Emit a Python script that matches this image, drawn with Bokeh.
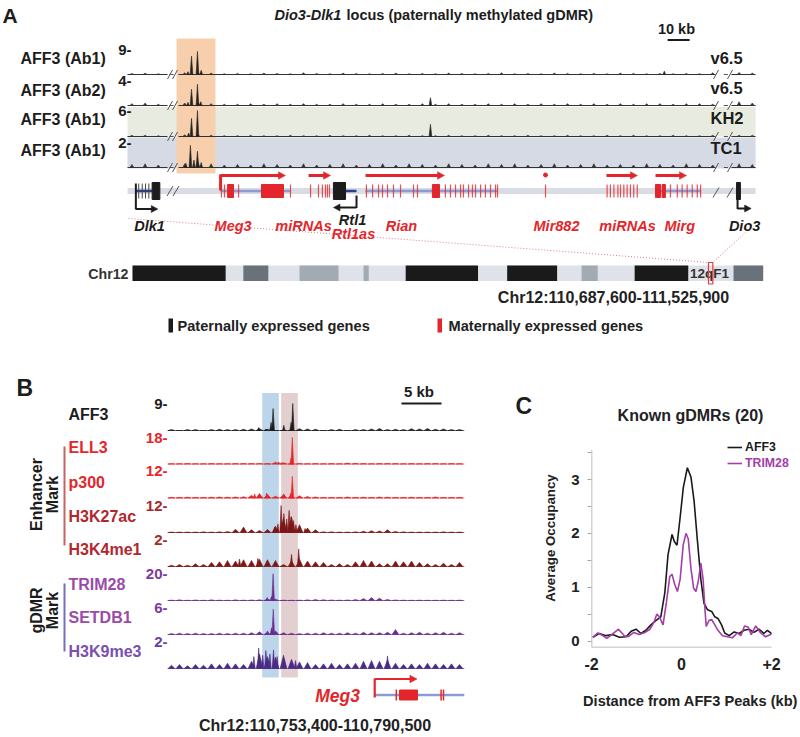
import math
from bokeh.plotting import figure
from bokeh.models import Range1d, Legend, LegendItem, FixedTicker
from bokeh.layouts import column, row
from bokeh.embed import file_html
from bokeh.resources import INLINE
from bokeh.core.properties import value

# ======================= DATA =======================
# ---- Panel A: Dio3-Dlk1 locus; positions in kb from the left end of the displayed track
A_TRACK_LABELS = ["AFF3 (Ab1)", "AFF3 (Ab2)", "AFF3 (Ab1)", "AFF3 (Ab1)"]
A_TRACK_MAX = [9, 4, 6, 2]
A_CELL_LINES = ["v6.5", "v6.5", "KH2", "TC1"]
A_BINS = [2, 8, 14, 20, 26, 32, 38, 44, 50, 56, 62, 68, 74, 80, 86, 92, 98, 104,
          110, 116, 122, 128, 134, 140, 146, 152, 158, 164, 170, 176, 182, 188,
          194, 200, 206, 212, 218, 224, 230, 236, 242, 248, 254, 260, 266, 272, 278, 284]
A_BG_1 = [0.4, 0.5, 0.3, 0.0, 0.6, 0.8, 0.5, 0.3, 0.4, 0.3,
          0.5, 0.4, 0.3, 0.6, 0.4, 0.3, 0.5, 0.4, 0.3, 0.4,
          0.5, 0.3, 0.4, 0.3, 0.5, 0.4, 0.3, 0.4, 0.6, 0.3,
          0.4, 0.3, 0.5, 0.4, 0.3, 0.4, 0.3, 0.5, 0.4, 0.3,
          0.4, 0.3, 0.4, 0.3, 0.6, 0.0, 0.7, 0.5]
A_BG_2 = [0.3, 0.4, 0.2, 0.0, 0.4, 0.6, 0.3, 0.2, 0.2, 0.3,
          0.2, 0.3, 0.2, 0.3, 0.2, 0.2, 0.3, 0.2, 0.2, 0.3,
          0.2, 0.2, 0.3, 0.2, 0.3, 0.2, 0.2, 0.3, 0.2, 0.3,
          0.2, 0.3, 0.2, 0.3, 0.2, 0.3, 0.2, 0.3, 0.2, 0.3,
          0.3, 0.2, 0.3, 0.3, 0.2, 0.0, 0.6, 0.4]
A_BG_3 = [0.3, 0.3, 0.2, 0.0, 0.4, 0.5, 0.3, 0.2, 0.2, 0.3,
          0.2, 0.2, 0.3, 0.2, 0.2, 0.3, 0.2, 0.2, 0.3, 0.2,
          0.2, 0.3, 0.2, 0.2, 0.3, 0.2, 0.2, 0.3, 0.2, 0.2,
          0.3, 0.2, 0.2, 0.3, 0.2, 0.2, 0.3, 0.2, 0.3, 0.2,
          0.2, 0.3, 0.2, 0.2, 0.3, 0.0, 0.3, 0.3]
A_BG_4 = [0.25, 0.3, 0.2, 0.0, 0.3, 0.45, 0.3, 0.2, 0.25, 0.2,
          0.3, 0.25, 0.2, 0.3, 0.2, 0.25, 0.3, 0.2, 0.25, 0.3,
          0.2, 0.3, 0.25, 0.2, 0.3, 0.25, 0.2, 0.3, 0.25, 0.3,
          0.2, 0.25, 0.3, 0.2, 0.25, 0.3, 0.2, 0.25, 0.2, 0.3,
          0.25, 0.2, 0.3, 0.25, 0.2, 0.0, 0.3, 0.25]
A_BG = [A_BG_1, A_BG_2, A_BG_3, A_BG_4]
A_PEAK_POS = [[27.5, 29.1, 31.8, 33.5, 244.0],
              [27.5, 29.1, 31.8, 33.3, 137.7],
              [27.8, 29.1, 31.8, 137.7],
              [26.5, 28.6, 30.2, 31.8, 33.5]]
A_PEAK_H = [[1.0, 6.6, 8.3, 1.5, 1.2],
            [0.5, 2.6, 3.4, 0.6, 1.25],
            [0.8, 4.2, 6.0, 2.8],
            [0.35, 1.77, 0.6, 1.3, 0.4]]
A_SEG_START = [0.0, 23.2, 274.5]
A_SEG_END = [18.2, 267.3, 285.5]
A_TRACK_LEN = 285.5
A_GDMR = (22.3, 40.0)

# genes (kb)
A_PAT_LINE_START = [3.8, 99.1]
A_PAT_LINE_END = [11.2, 104.1]
A_PAT_BOX_L = [11.2, 93.6, 276.8]
A_PAT_BOX_R = [14.7, 99.1, 278.6]
A_DLK1_EXONS = [5.1, 6.7, 8.2, 9.7]
A_MAT_LINE_START = [42.3, 108.2, 240.0]
A_MAT_LINE_END = [74.1, 168.2, 260.5]
A_MAT_BOX_L = [45.5, 60.9, 138.6, 240.0, 243.0]
A_MAT_BOX_R = [48.2, 70.9, 141.8, 242.3, 244.5]
A_MAT_EXONS = [42.7, 44.1, 50.5, 74.1,
               83.2, 86.8, 88.6, 90.0, 90.9, 91.8,
               108.6, 111.4, 114.1, 115.9, 118.2, 120.9, 124.1, 130.0, 131.8, 144.5,
               146.8, 149.1, 151.4, 152.7, 155.0, 156.8, 158.2, 160.5, 162.7, 165.0,
               167.3, 168.2,
               190.0,
               218.0, 219.5, 221.1, 222.9, 224.1, 225.6, 227.1, 228.6, 230.1, 231.7,
               246.8, 249.9, 252.1, 254.4, 256.7, 259.0, 260.5]
A_MAT_ARROW_START = [42.3, 82.3, 108.2, 217.7, 240.0]
A_MAT_ARROW_END = [71.8, 92.3, 144.1, 231.8, 254.1]
A_MIR882 = 190.0
A_GENE_NAMES = ["Dlk1", "Meg3", "miRNAs", "Rtl1", "Rtl1as", "Rian", "Mir882", "miRNAs", "Mirg", "Dio3"]
A_GENE_POS = [10.0, 48.0, 80.0, 102.3, 102.7, 124.5, 195.0, 227.3, 251.0, 280.5]
A_GENE_PATERNAL = [True, False, False, True, False, False, False, False, False, True]

# chromosome 12 ideogram (Mb)
CHR_LEN = 121.2
CHR_BAND_START = [0.0, 21.3, 32.1, 44.4, 52.5, 72.0, 86.3, 96.5, 115.5]
CHR_BAND_END = [17.9, 26.1, 39.6, 45.4, 66.4, 81.6, 89.4, 106.8, 121.2]
CHR_BAND_STAIN = ["gpos100", "gpos66", "gpos50", "gpos50", "gpos100", "gpos100", "gpos50", "gpos100", "gpos66"]
LOCUS_MB = (110.6876, 111.5259)

# ---- Panel B: Meg3 region, kb from 110,753,400
B_TRACKS = ["AFF3", "ELL3", "p300", "H3K27ac", "H3K4me1", "TRIM28", "SETDB1", "H3K9me3"]
B_MAX = [9, 18, 12, 12, 2, 20, 6, 2]
B_LEN = 37.1
B_BINS = [i + 0.5 for i in range(37)]
B_BG = [
    [0.3, 0.0, 0.3, 0.3, 0.0, 0.3, 0.4, 0.3, 0.3, 0.4, 0.5, 0.6, 0.4, 0.0, 0.0, 0.0, 0.6, 0.5, 0.4, 0.0,
     0.3, 0.4, 0.0, 0.3, 0.3, 0.5, 0.7, 0.3, 0.4, 0.3, 0.6, 0.5, 0.7, 0.4, 0.5, 0.3, 0.3],
    [0.2, 0.2, 0.3, 0.2, 0.2, 0.3, 0.2, 0.2, 0.3, 0.3, 0.3, 0.4, 0.3, 1.2, 0.8, 0.0, 0.4, 0.2, 0.3, 0.2,
     0.3, 0.2, 0.6, 0.5, 0.3, 0.2, 0.3, 0.4, 0.3, 0.2, 0.3, 0.2, 0.3, 0.4, 0.2, 0.3, 0.2],
    [0.3, 0.3, 0.4, 0.3, 0.3, 0.4, 0.5, 0.4, 0.5, 0.6, 1.2, 2.0, 1.6, 0.8, 1.6, 1.2, 1.0, 0.7, 0.5, 0.3,
     0.3, 0.3, 0.5, 0.3, 0.4, 0.3, 0.5, 0.4, 0.3, 0.3, 0.4, 0.3, 0.3, 0.5, 0.3, 0.3, 0.3],
    [0.2, 0.2, 0.2, 0.2, 0.3, 0.2, 0.3, 0.4, 1.5, 2.4, 1.2, 0.9, 1.3, 2.8, 6.5, 7.0, 3.5, 2.0, 1.2,
     0.3, 0.3, 0.2, 0.2, 0.3, 0.6, 0.8, 0.7, 1.2, 0.5, 0.3, 0.2, 0.2, 0.2, 0.2, 0.3, 0.2, 0.2],
    [0.1, 0.15, 0.1, 0.2, 0.15, 0.3, 0.35, 0.45, 0.4, 0.5, 0.45, 0.55, 0.5, 0.45, 0.15, 0.4, 0.55, 0.4, 0.35, 0.3,
     0.15, 0.2, 0.15, 0.35, 0.45, 0.4, 0.2, 0.2, 0.4, 0.35, 0.4, 0.3, 0.2, 0.15, 0.25, 0.15, 0.3],
    [0.3, 0.5, 0.2, 0.4, 0.2, 0.5, 0.3, 0.2, 0.5, 0.3, 0.4, 0.6, 1.2, 1.0, 0.3, 0.2, 0.3, 0.5, 0.7, 0.6,
     0.4, 0.3, 0.4, 0.7, 1.4, 2.2, 1.6, 0.8, 0.4, 0.3, 0.2, 0.3, 0.2, 0.2, 0.3, 0.2, 0.3],
    [0.2, 0.3, 0.2, 0.3, 0.2, 0.2, 0.3, 0.2, 0.3, 0.3, 0.4, 0.6, 0.5, 0.8, 0.4, 0.3, 0.2, 0.3, 0.3, 0.4,
     0.3, 0.3, 0.4, 0.3, 0.5, 0.4, 0.4, 0.5, 1.1, 0.3, 0.4, 0.5, 0.3, 0.4, 0.5, 0.3, 0.4],
    [0.25, 0.3, 0.2, 0.3, 0.25, 0.35, 0.3, 0.4, 0.35, 0.3, 0.55, 1.1, 0.9, 0.85, 1.0, 0.7, 0.5, 0.45, 0.3, 0.35,
     0.4, 0.3, 0.35, 0.4, 0.55, 0.6, 0.55, 0.65, 0.4, 0.3, 0.35, 0.3, 0.4, 0.35, 0.3, 0.35, 0.3],
]
B_PEAK_POS = [
    [11.4, 12.3, 12.95, 13.2, 14.54, 15.45, 15.66],
    [13.9, 14.3, 15.45, 15.6],
    [10.9, 12.4, 14.55, 15.4, 15.6],
    [13.4, 13.8, 14.2, 14.55, 14.9, 15.2, 15.45, 15.75, 16.05, 16.6, 17.2],
    [9.0, 11.3, 15.5, 16.4],
    [12.46, 13.0, 13.2],
    [12.5, 13.0, 13.22],
    [10.8, 11.4, 11.9, 12.3, 12.8, 13.25, 13.7, 14.6, 16.0, 27.5],
]
B_PEAK_H = [
    [1.0, 0.5, 2.7, 7.3, 1.7, 2.7, 9.0],
    [1.4, 1.0, 4.0, 18.0],
    [1.8, 2.2, 1.8, 2.2, 9.6],
    [2.5, 3.8, 12.0, 8.4, 6.0, 9.8, 7.0, 5.3, 3.5, 2.2, 1.8],
    [0.55, 0.6, 0.9, 1.3],
    [2.2, 3.0, 19.8],
    [0.8, 1.5, 5.6],
    [0.9, 1.55, 1.0, 1.35, 1.1, 1.4, 0.9, 0.7, 0.6, 0.95],
]
B_AFF3_SITE = (11.84, 13.91)
B_ENH_SITE = (14.21, 16.29)
B_MEG3_TSS = 25.9
B_MEG3_ARROW_END = 31.2
B_MEG3_EXONS = [28.6, 34.2, 34.5]
B_MEG3_BOX = (29.0, 31.25)

# ---- Panel C: metaprofile at known gDMRs (kb vs average occupancy)
C_X_AFF3 = [-1.97, -1.83, -1.68, -1.53, -1.38, -1.23, -1.12, -1.01, -0.90, -0.79, -0.68, -0.57,
            -0.46, -0.37, -0.30, -0.21, -0.16, -0.10, -0.03, 0.04, 0.13, 0.21, 0.28, 0.35, 0.43,
            0.50, 0.58, 0.67, 0.74, 0.81, 0.89, 0.96, 1.06, 1.17, 1.28, 1.39, 1.50, 1.61, 1.72,
            1.83, 1.91, 2.00]
C_Y_AFF3 = [0.07, 0.14, 0.10, 0.12, 0.07, 0.08, 0.18, 0.22, 0.14, 0.20, 0.30, 0.38,
            0.45, 0.90, 1.60, 1.98, 1.85, 1.78, 2.30, 2.85, 3.22, 3.05, 2.60, 1.90, 1.15,
            0.70, 0.58, 0.55, 0.45, 0.42, 0.30, 0.15, 0.10, 0.17, 0.14, 0.20, 0.22, 0.16, 0.22,
            0.14, 0.20, 0.14]
C_X_TRIM28 = [-1.97, -1.86, -1.75, -1.66, -1.55, -1.40, -1.27, -1.18, -1.06, -0.94, -0.81, -0.70,
              -0.61, -0.55, -0.49, -0.41, -0.33, -0.26, -0.21, -0.15, -0.09, -0.03, 0.04, 0.10,
              0.15, 0.21, 0.27, 0.32, 0.37, 0.43, 0.48, 0.52, 0.55, 0.61, 0.67, 0.74, 0.81, 0.91,
              1.02, 1.13, 1.24, 1.32, 1.40, 1.48, 1.55, 1.65, 1.76, 1.87, 2.00]
C_Y_TRIM28 = [0.07, 0.15, 0.10, 0.05, 0.12, 0.22, 0.10, 0.08, 0.16, 0.12, 0.16, 0.22,
              0.35, 0.50, 0.45, 0.30, 0.75, 1.20, 1.24, 1.05, 0.92, 1.15, 1.80, 2.00,
              1.90, 1.35, 0.98, 0.92, 1.10, 1.45, 1.15, 0.60, 0.27, 0.38, 0.40, 0.30, 0.20, 0.10,
              0.08, 0.06, 0.15, 0.10, 0.28, 0.26, 0.12, 0.28, 0.15, 0.08, 0.13]
C_X_TICKS = [-2, 0, 2]
C_Y_TICKS = [0, 0.5, 1, 1.5, 2, 2.5, 3, 3.5]
C_X_LIMITS = (-2, 2)
C_Y_LIMITS = (-0.12, 3.55)

# ======================= STYLE =======================
FONT = "Liberation Sans"
BLACK = "#1c1c1c"
RED = "#e3262b"
PAT_BLUE = "#2b3f8f"
MAT_BLUE = "#8c9bd6"
GENE_GRAY = "#d9dde3"
SX = 1.0

A_BASE = [74, 105, 136, 167]
A_TOP = [49, 80, 110, 142]
A_LABEL_Y = [58, 90, 119, 150]
A_CELL_Y = [57, 87, 117, 147]
A_KB0_PX, A_PX_PER_KB = 127.0, 2.2
CHR0_PX, CHR_PX_PER_MB = 132.0, 5.2037
B_BASE = [430, 463.5, 497.5, 532, 566, 600, 634, 668]
B_TOP = [403, 437, 470.5, 505, 539, 573, 607, 641.5]
B_LABEL_Y = [414, 447, 482, 516, 549, 584, 617, 651]
B_KB0_PX, B_PX_PER_KB = 167.0, 8.0
B_SIG_COLOR = [BLACK, RED, RED, "#7a1717", "#7a1717", "#6a2b8e", "#6a2b8e", "#4b2a85"]
B_TXT_COLOR = [BLACK, RED, RED, "#b0282f", "#b0282f", "#9a4aa9", "#9a4aa9", "#7a4fae"]
B_SCALE_COLOR = [BLACK, RED, RED, "#a42a2a", "#a42a2a", "#7d3a9e", "#7d3a9e", "#6a3fa3"]


def canvas(w, h, x0, x1, ytop, ybot):
    p = figure(width=w, height=h, x_range=Range1d(x0, x1), y_range=Range1d(ybot, ytop),
               output_backend="svg", toolbar_location=None, min_border=0,
               x_axis_location=None, y_axis_location=None)
    p.xgrid.visible = False
    p.ygrid.visible = False
    p.outline_line_color = None
    p.frame_align = False
    return p


def txt(p, x, y, s, size, color=BLACK, style="bold", align="left", base="middle", angle=0.0):
    p.text(x=[x], y=[y], text=[s], text_font=value(FONT), text_font_size=f"{size * SX:.1f}px",
           text_font_style=style, text_color=color, text_align=align, text_baseline=base, angle=angle)


def spikes(p, pos, h, half, color, xr, yr):
    xs = [[x - half, x, x + half] for x in pos]
    ys = [[0, v, 0] for v in h]
    p.patches(xs=xs, ys=ys, fill_color=color, line_color=color, line_width=0.6,
              x_range_name=xr, y_range_name=yr)


def harrow(p, x0, x1, y, color, lw, head_len, head_half, xr):
    s = 1 if x1 > x0 else -1
    p.segment(x0=[x0], y0=[y], x1=[x1 - s * head_len * 0.6], y1=[y], line_color=color,
              line_width=lw, x_range_name=xr)
    p.patches(xs=[[x1, x1 - s * head_len, x1 - s * head_len]], ys=[[y, y - head_half, y + head_half]],
              fill_color=color, line_color=color, line_width=0.5, x_range_name=xr)


def slash(p, x, y, half_h=4.5, half_w=2.5, color="#555555"):
    p.segment(x0=[x - half_w], y0=[y + half_h], x1=[x + half_w], y1=[y - half_h],
              line_color=color, line_width=1)


# ======================= PANEL A =======================
pA = canvas(800, 365, 0, 800, 0, 365)
pA.extra_x_ranges = {
    "kb": Range1d((0 - A_KB0_PX) / A_PX_PER_KB, (800 - A_KB0_PX) / A_PX_PER_KB),
    "mb": Range1d((0 - CHR0_PX) / CHR_PX_PER_MB, (800 - CHR0_PX) / CHR_PX_PER_MB),
}
for i in range(4):
    k = A_TRACK_MAX[i] / (A_BASE[i] - A_TOP[i])
    pA.extra_y_ranges[f"t{i}"] = Range1d((A_BASE[i] - 365) * k, A_BASE[i] * k)

pA.quad(left=[0, 0], right=[A_TRACK_LEN, A_TRACK_LEN], top=[106.5, 137], bottom=[136, 168],
        fill_color=["#e8ebe0", "#d6dae4"], line_color=None, x_range_name="kb")
pA.quad(left=[A_GDMR[0]], right=[A_GDMR[1]], top=[38], bottom=[173], fill_color="#f7cfac",
        line_color=None, x_range_name="kb")

for i in range(4):
    yr = f"t{i}"
    pA.segment(x0=A_SEG_START, x1=A_SEG_END, y0=0, y1=0, line_color="#333333", line_width=1,
               x_range_name="kb", y_range_name=yr)
    spikes(pA, A_BINS, A_BG[i], 0.9, "#333333", "kb", yr)
    spikes(pA, A_PEAK_POS[i], A_PEAK_H[i], 0.6, "#222222", "kb", yr)
    slash(pA, 169.5, A_BASE[i])
    slash(pA, 174.5, A_BASE[i])
    slash(pA, 715.5, A_BASE[i])
    slash(pA, 729.5, A_BASE[i])
    txt(pA, 20, A_LABEL_Y[i], A_TRACK_LABELS[i], 16)
    txt(pA, 131, A_TOP[i], f"{A_TRACK_MAX[i]}-", 15, align="right")
    txt(pA, 710, A_CELL_Y[i], A_CELL_LINES[i], 16.5)

pA.quad(left=[0], right=[A_TRACK_LEN], top=[187.5], bottom=[193.5], fill_color=GENE_GRAY,
        line_color=None, x_range_name="kb")
pA.segment(x0=A_MAT_LINE_START, x1=A_MAT_LINE_END, y0=190.5, y1=190.5, line_color=MAT_BLUE,
           line_width=2.5, x_range_name="kb")
pA.segment(x0=A_PAT_LINE_START, x1=A_PAT_LINE_END, y0=190.5, y1=190.5, line_color=PAT_BLUE,
           line_width=2.5, x_range_name="kb")
pA.segment(x0=A_MAT_EXONS, x1=A_MAT_EXONS, y0=184, y1=197, line_color=RED, line_width=1.2,
           line_alpha=0.8, x_range_name="kb")
pA.quad(left=A_MAT_BOX_L, right=A_MAT_BOX_R, top=184, bottom=197, fill_color=RED, line_color=RED,
        x_range_name="kb")
pA.segment(x0=A_DLK1_EXONS, x1=A_DLK1_EXONS, y0=183, y1=198, line_color="#444444", line_width=1,
           x_range_name="kb")
pA.quad(left=A_PAT_BOX_L, right=A_PAT_BOX_R, top=182, bottom=199, fill_color=BLACK, line_color=BLACK,
        x_range_name="kb")
pA.segment(x0=[A_MAT_ARROW_START[0]], x1=[A_MAT_ARROW_START[0]], y0=[190], y1=[174],
           line_color=RED, line_width=3, x_range_name="kb")
for s, e in zip(A_MAT_ARROW_START, A_MAT_ARROW_END):
    harrow(pA, s, e, 175, RED, 3, 3.2, 3.8, "kb")
pA.scatter(x=[A_MIR882], y=[174.5], size=4, color=RED, x_range_name="kb")
pA.segment(x0=[A_PAT_LINE_START[0], A_PAT_LINE_END[1], A_PAT_BOX_L[2] + 0.5],
           x1=[A_PAT_LINE_START[0], A_PAT_LINE_END[1], A_PAT_BOX_L[2] + 0.5],
           y0=[183, 195, 183], y1=[209, 207.5, 208.5], line_color=BLACK, line_width=2, x_range_name="kb")
harrow(pA, A_PAT_LINE_START[0], 13.8, 208.5, BLACK, 2, 3.0, 3.5, "kb")
harrow(pA, A_PAT_LINE_END[1], 93.6, 207, BLACK, 2, 3.0, 3.5, "kb")
harrow(pA, A_PAT_BOX_L[2] + 0.5, 283.5, 208, BLACK, 2, 3.0, 3.5, "kb")
slash(pA, 169.5, 190.5, 5, 3)
slash(pA, 175.5, 190.5, 5, 3)
slash(pA, 715.5, 192, 5, 3)
slash(pA, 729.5, 192, 5, 3)

for name, pos, pat in zip(A_GENE_NAMES, A_GENE_POS, A_GENE_PATERNAL):
    y = 225
    if name == "Rtl1":
        y = 219
    elif name == "Rtl1as":
        y = 233
    px = A_KB0_PX + pos * A_PX_PER_KB
    txt(pA, px, y, name, 14.5, color=BLACK if pat else RED, style="bold italic", align="center")

lx0 = CHR0_PX + LOCUS_MB[0] * CHR_PX_PER_MB
lx1 = CHR0_PX + LOCUS_MB[1] * CHR_PX_PER_MB
pA.segment(x0=[128, 745], y0=[218, 232], x1=[lx0, lx1], y1=[262, 262], line_color="#e47c7c",
           line_width=1, line_dash="1 2")

stain_col = {"gpos100": "#1a1a1a", "gpos66": "#69727a", "gpos50": "#a2aab4"}
pA.quad(left=[0], right=[CHR_LEN], top=[265], bottom=[280.5], fill_color="#dfe3e9", line_color=None,
        x_range_name="mb")
pA.quad(left=CHR_BAND_START, right=CHR_BAND_END, top=265, bottom=280.5,
        fill_color=[stain_col[s] for s in CHR_BAND_STAIN], line_color=None, x_range_name="mb")
txt(pA, 709, 273, "12qF1", 13.5, color="#333333", align="center")
pA.quad(left=[LOCUS_MB[0]], right=[LOCUS_MB[1]], top=[262], bottom=[283.5], fill_color=None,
        line_color="#e0393e", line_width=1.2, x_range_name="mb")
txt(pA, 128, 273, "Chr12", 14.2, color="#333333", align="right")
txt(pA, 613, 297, "Chr12:110,687,600-111,525,900", 16, color="#222222", align="center")

pA.quad(left=[168, 437], right=[172.5, 441.5], top=[318, 318], bottom=[332, 332],
        fill_color=[BLACK, RED], line_color=None)
txt(pA, 177, 325.5, "Paternally expressed genes", 14.6, color="#222222")
txt(pA, 448, 325.5, "Maternally expressed genes", 14.6, color="#222222")

txt(pA, 2, 15, "A", 21)
txt(pA, 274, 14, "Dio3-Dlk1", 14.5, style="bold italic")
txt(pA, 346, 14, "locus (paternally methylated gDMR)", 14.5)
txt(pA, 676, 28, "10 kb", 14.5, align="center")
pA.segment(x0=[245.5], x1=[255.5], y0=[39.5], y1=[39.5], line_color=BLACK, line_width=2,
           x_range_name="kb")

# ======================= PANEL B =======================
pB = canvas(540, 372, 0, 540, 365, 737)
pB.extra_x_ranges = {"kb": Range1d((0 - B_KB0_PX) / B_PX_PER_KB, (540 - B_KB0_PX) / B_PX_PER_KB)}
for i in range(8):
    k = B_MAX[i] / (B_BASE[i] - B_TOP[i])
    pB.extra_y_ranges[f"t{i}"] = Range1d((B_BASE[i] - 737) * k, (B_BASE[i] - 365) * k)

pB.quad(left=[B_AFF3_SITE[0], B_ENH_SITE[0]], right=[B_AFF3_SITE[1], B_ENH_SITE[1]],
        top=392.5, bottom=677, fill_color=["#bcd5ea", "#e3cfcf"], line_color=None, x_range_name="kb")

for i in range(8):
    yr = f"t{i}"
    c = B_SIG_COLOR[i]
    pB.segment(x0=[0], x1=[B_LEN], y0=[0], y1=[0], line_color=c, line_width=0.8, line_alpha=0.8,
               x_range_name="kb", y_range_name=yr)
    spikes(pB, B_BINS, B_BG[i], 0.42, c, "kb", yr)
    spikes(pB, B_PEAK_POS[i], B_PEAK_H[i], 0.16, c, "kb", yr)
    txt(pB, 167, B_TOP[i], f"{B_MAX[i]}-", 15, color=B_SCALE_COLOR[i], align="right")
    txt(pB, 68, B_LABEL_Y[i], B_TRACKS[i], 16, color=B_TXT_COLOR[i])

pB.segment(x0=[64, 64], x1=[64, 64], y0=[446, 583], y1=[545, 651],
           line_color=["#c46464", "#7570b5"], line_width=2)
txt(pB, 35.5, 494, "Enhancer", 16, angle=math.pi / 2, align="center")
txt(pB, 51.5, 494, "Mark", 16, angle=math.pi / 2, align="center")
txt(pB, 35.5, 610, "gDMR", 16, angle=math.pi / 2, align="center")
txt(pB, 51.5, 610, "Mark", 16, angle=math.pi / 2, align="center")

pB.segment(x0=[B_MEG3_TSS], x1=[B_LEN], y0=[694.5], y1=[694.5], line_color=MAT_BLUE, line_width=2.5,
           x_range_name="kb")
pB.segment(x0=[B_MEG3_TSS], x1=[B_MEG3_TSS], y0=[697], y1=[678], line_color=RED, line_width=2.2,
           x_range_name="kb")
harrow(pB, B_MEG3_TSS, B_MEG3_ARROW_END, 678.5, RED, 2.2, 0.9, 3.8, "kb")
pB.segment(x0=B_MEG3_EXONS, x1=B_MEG3_EXONS, y0=689, y1=700, line_color=RED, line_width=1.5,
           x_range_name="kb")
pB.quad(left=[B_MEG3_BOX[0]], right=[B_MEG3_BOX[1]], top=[689.5], bottom=[699.5], fill_color=RED,
        line_color=RED, x_range_name="kb")
txt(pB, 337, 695, "Meg3", 17.5, color=RED, style="bold italic", align="center")

txt(pB, 314.5, 725, "Chr12:110,753,400-110,790,500", 16, color="#222222", align="center")
txt(pB, 418.5, 391, "5 kb", 15, align="center")
pB.segment(x0=[29.25], x1=[34.25], y0=[403], y1=[403], line_color=BLACK, line_width=2,
           x_range_name="kb")
txt(pB, 16, 387, "B", 23)
txt(pB, 515, 405, "C", 23)

# ======================= PANEL C =======================
# frame extended right/up so the legend (which sits beyond the data area) is not clipped
pC = figure(width=260, height=372, x_range=Range1d(C_X_LIMITS[0], 2.4),
            y_range=Range1d(C_Y_LIMITS[0], 3.95),
            output_backend="svg", toolbar_location=None,
            min_border_left=51, min_border_right=11, min_border_top=63, min_border_bottom=90)
pC.frame_align = False
pC.grid.visible = False
pC.outline_line_color = None
AX_GRAY = "#a8a8a8"
pC.segment(x0=[C_X_LIMITS[0], C_X_LIMITS[0]], y0=[C_Y_LIMITS[0], C_Y_LIMITS[0]],
           x1=[C_X_LIMITS[1], C_X_LIMITS[0]], y1=[C_Y_LIMITS[0], C_Y_LIMITS[1]],
           line_color=AX_GRAY, line_width=1.5)
r1 = pC.line(C_X_AFF3, C_Y_AFF3, line_color="#1a1a1a", line_width=1.6)
r2 = pC.line(C_X_TRIM28, C_Y_TRIM28, line_color="#a43ea8", line_width=1.6)

pC.title.text = "Known gDMRs (20)"
pC.title.text_font = FONT
pC.title.text_font_size = "16px"
pC.title.text_font_style = "bold"
pC.title.text_color = "#222222"
pC.title.align = "center"
pC.title.offset = 13

for ax in (pC.xaxis, pC.yaxis):
    ax.axis_line_color = None
    ax.major_tick_line_color = AX_GRAY
    ax.minor_tick_line_color = None
    ax.major_label_text_font = FONT
    ax.major_label_text_font_style = "bold"
    ax.major_label_text_color = "#222222"
    ax.axis_label_text_font = FONT
    ax.axis_label_text_font_style = "bold"
    ax.axis_label_text_color = "#222222"

pC.xaxis.ticker = FixedTicker(ticks=C_X_TICKS)
pC.xaxis.major_label_overrides = {-2: "-2", 0: "0", 2: "+2"}
pC.xaxis.major_tick_out = 0
pC.xaxis.major_tick_in = 0
pC.xaxis.major_label_text_font_size = "16px"
pC.xaxis.major_label_standoff = 10
pC.xaxis.axis_label = "Distance from AFF3 Peaks (kb)"
pC.xaxis.axis_label_text_font_size = "14.6px"
pC.xaxis.axis_label_standoff = 20

pC.yaxis.ticker = FixedTicker(ticks=C_Y_TICKS)
pC.yaxis.major_label_overrides = {0.5: "", 1.5: "", 2.5: "", 3.5: ""}
pC.yaxis.major_tick_out = 4
pC.yaxis.major_tick_in = 0
pC.yaxis.major_label_text_font_size = "15px"
pC.yaxis.major_label_standoff = 8
pC.yaxis.axis_label = "Average Occupancy"
pC.yaxis.axis_label_text_font_size = "13.3px"
pC.yaxis.axis_label_standoff = 10

common = dict(label_text_font=FONT, label_text_font_size="12.3px", label_text_font_style="bold",
              glyph_width=15, glyph_height=14, label_height=14, label_standoff=3, padding=0,
              margin=0, spacing=0, border_line_color=None, background_fill_alpha=0)
pC.add_layout(Legend(items=[LegendItem(label="AFF3", renderers=[r1])], location=(136, 193),
                     label_text_color="#1a1a1a", **common), "center")
pC.add_layout(Legend(items=[LegendItem(label="TRIM28", renderers=[r2])], location=(136, 177),
                     label_text_color="#a43ea8", **common), "center")

layout = column(pA, row(pB, pC))
open("out.html", "w").write(file_html(layout, INLINE))
